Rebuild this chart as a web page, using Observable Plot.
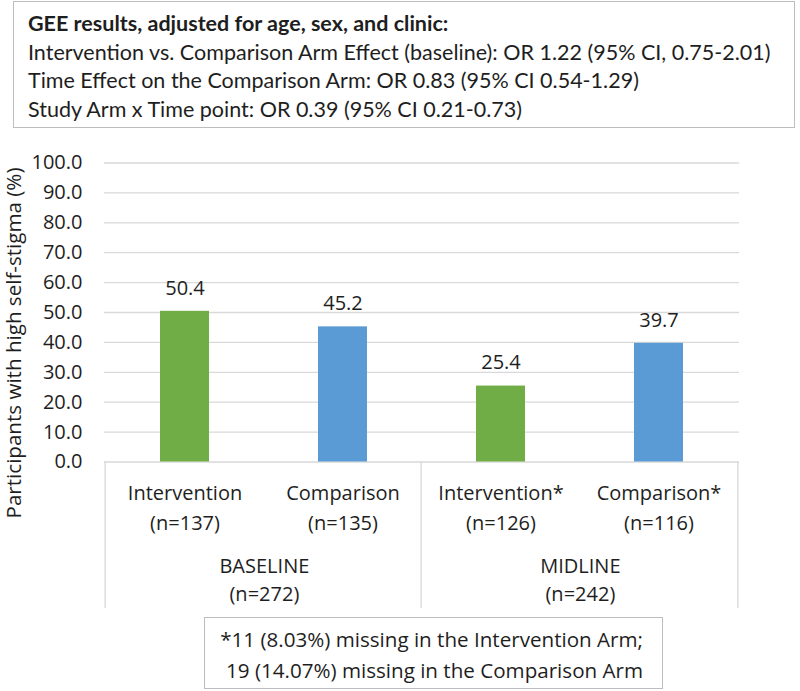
<!DOCTYPE html>
<html>
<head>
<meta charset="utf-8">
<script src="https://cdn.jsdelivr.net/npm/d3@7"></script>
<script src="https://cdn.jsdelivr.net/npm/@observablehq/plot@0.6"></script>
<style>
  html, body { margin: 0; padding: 0; background: #fff; }
  #root { position: relative; width: 800px; height: 691px; overflow: hidden; color: #1e1e1e; }
  #gee { position: absolute; left: 13px; top: 1px; width: 782px; height: 127px; box-sizing: border-box;
         border: 1.5px solid #bdbdbd; padding: 7px 0 0 14px; font-family: Lato, sans-serif; line-height: 28.5px; white-space: nowrap; }
  #gee .t { font-weight: bold; }
  #chart { position: absolute; left: 0; top: 130px; }
  #ylab { position: absolute; left: 0; top: 0; }
  #foot { position: absolute; left: 204px; top: 617px; width: 459px; height: 72px; box-sizing: border-box;
          border: 1.5px solid #bdbdbd; padding: 6px 19px 0 0; font-family: "Open Sans", sans-serif;
          line-height: 31px; text-align: right; white-space: nowrap; }
</style>
</head>
<body>
<div id="root">
  <div id="gee"></div>
  <div id="chart"></div>
  <svg id="ylab" width="30" height="691"></svg>
  <div id="foot"></div>
</div>
<script>
// ---- data ----
const periods = ["BASELINE", "BASELINE", "MIDLINE", "MIDLINE"];
const arms = ["Intervention", "Comparison", "Intervention", "Comparison"];
const armLabels = ["Intervention", "Comparison", "Intervention*", "Comparison*"];
const armN = ["(n=137)", "(n=135)", "(n=126)", "(n=116)"];
const values = [50.4, 45.2, 25.4, 39.7];
const groupLabels = ["BASELINE", "MIDLINE"];
const groupN = ["(n=272)", "(n=242)"];
const yTicks = [0, 10, 20, 30, 40, 50, 60, 70, 80, 90, 100];
const yLabel = "Participants with high self-stigma (%)";
const geeTitle = "GEE results, adjusted for age, sex, and clinic:";
const geeLines = [
  "Intervention vs. Comparison Arm Effect (baseline): OR 1.22 (95% CI, 0.75-2.01)",
  "Time Effect on the Comparison Arm: OR 0.83 (95% CI 0.54-1.29)",
  "Study Arm x Time point: OR 0.39 (95% CI 0.21-0.73)"
];
const footLines = [
  "*11 (8.03%) missing in the Intervention Arm;",
  "19 (14.07%) missing in the Comparison Arm"
];

// ---- font fitting helper ----
const ctx = document.createElement("canvas").getContext("2d");
function fitSize(text, family, targetWidth) {
  ctx.font = `100px ${family}`;
  return targetWidth / ctx.measureText(text).width * 100;
}

// ---- top box ----
const gee = document.getElementById("gee");
gee.style.fontSize = fitSize(geeLines[0], "Lato", 744) + "px";
const tdiv = document.createElement("div"); tdiv.className = "t"; tdiv.textContent = geeTitle; gee.appendChild(tdiv);
for (const l of geeLines) { const d = document.createElement("div"); d.textContent = l; gee.appendChild(d); }

// ---- y label ----
d3.select("#ylab").append("text")
  .attr("transform", "translate(13,343) rotate(-90)")
  .attr("text-anchor", "middle").attr("dominant-baseline", "central")
  .attr("font-family", "'Open Sans', sans-serif")
  .attr("font-size", fitSize(yLabel, '"Open Sans"', 351))
  .attr("fill", "#1e1e1e")
  .text(yLabel);

// ---- footnote ----
const foot = document.getElementById("foot");
foot.style.fontSize = fitSize(footLines[0], '"Open Sans"', 423) + "px";
for (const l of footLines) { const d = document.createElement("div"); d.textContent = l; foot.appendChild(d); }

// ---- chart ----
const data = values.map((v, i) => ({
  key: periods[i] + " " + arms[i], period: periods[i], arm: arms[i],
  label: armLabels[i] + "\n" + armN[i], value: v
}));
const groups = groupLabels.map((g, i) => ({
  key: data.find(d => d.period === g).key, text: g + "\n" + groupN[i]
}));

const W = 800, H = 485, mL = 104, mR = 61, mT = 32.5, mB = 153.5;
const step = (W - mL - mR) / data.length;

const separators = (index, scales, values, dims) => {
  const g = d3.create("svg:g");
  const x = scales.x, y = scales.y;
  const y0 = y(0);
  const bw = x.bandwidth();
  const xs = groupLabels.map(gl => x(data.find(d => d.period === gl).key) - (step - bw) / 2);
  xs.push(x(data[data.length - 1].key) + bw + (step - bw) / 2);
  for (const xv of xs) {
    g.append("line").attr("x1", xv).attr("x2", xv).attr("y1", y0).attr("y2", y0 + 146.5)
      .attr("stroke", "#d9d9d9").attr("stroke-width", 1.3);
  }
  return g.node();
};

const plot = Plot.plot({
  width: W, height: H,
  marginLeft: mL, marginRight: mR, marginTop: mT, marginBottom: mB,
  style: { fontFamily: "'Open Sans', sans-serif", fontSize: "20px", color: "#1e1e1e", background: "transparent", overflow: "visible" },
  x: { domain: data.map(d => d.key), paddingInner: 0.688, paddingOuter: 0.344, axis: null },
  y: { domain: [0, 100], axis: null },
  color: { domain: ["Intervention", "Comparison"], range: ["#70ad47", "#5b9bd5"] },
  marks: [
    Plot.ruleY(yTicks, { stroke: "#d9d9d9", strokeWidth: 1.3 }),
    Plot.axisY(yTicks, { tickSize: 0, tickPadding: 22, tickFormat: d => d.toFixed(1), fontSize: 20, label: null }),
    Plot.barY(data, { x: "key", y: "value", fill: "arm" }),
    Plot.text(data, { x: "key", y: "value", text: d => d.value.toFixed(1), dy: -23, lineAnchor: "middle", fontSize: 20 }),
    separators,
    Plot.text(data, { x: "key", frameAnchor: "bottom", text: "label", lineAnchor: "middle", lineHeight: 1.5, dy: 43, fontSize: 20 }),
    Plot.text(groups, { x: "key", frameAnchor: "bottom", text: "text", lineAnchor: "middle", lineHeight: 1.4, dx: step / 2, dy: 116.5, fontSize: 20 })
  ]
});
document.getElementById("chart").appendChild(plot);
</script>
</body>
</html>
